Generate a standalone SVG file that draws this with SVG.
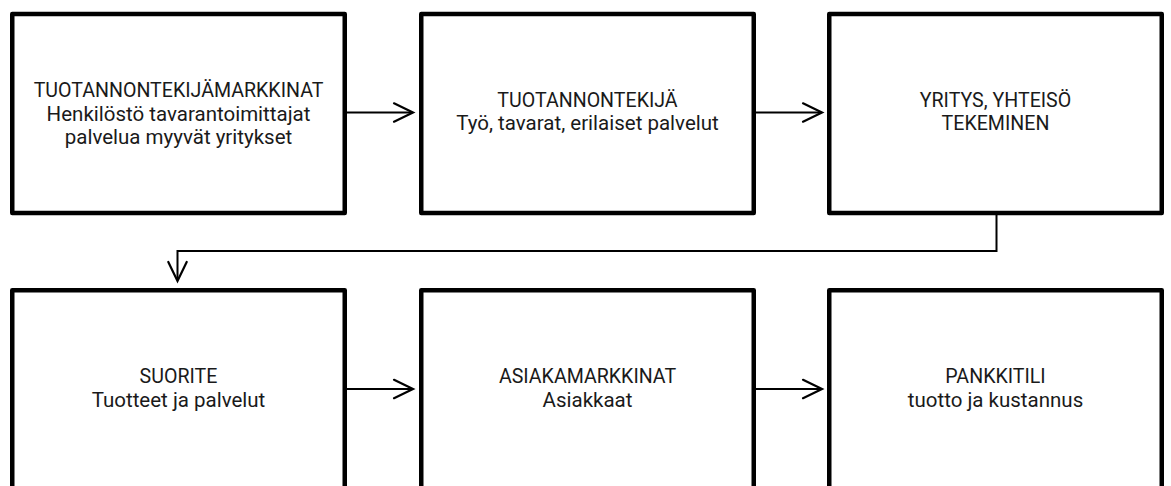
<svg xmlns="http://www.w3.org/2000/svg" width="1171" height="486" viewBox="0 0 1171 486">
  <style>
    .box { fill: #ffffff; stroke: #000000; stroke-width: 4.5; stroke-linejoin: round; }
    .label { font-family: Roboto, "Open Sans", sans-serif; font-size: 20.5px; fill: #1a1a1a; text-anchor: middle; }
    .caps { font-size: 19.6px; }
    .link { fill: none; stroke: #000000; stroke-width: 2; }
    .head { fill: none; stroke: #000000; stroke-width: 2.2; stroke-linecap: round; stroke-linejoin: miter; }
  </style>
  <rect width="1171" height="486" fill="#ffffff"/>

  <!-- top row -->
  <g id="node-tuotannontekijamarkkinat">
    <rect class="box" x="12.25" y="14" width="332.5" height="199"/>
    <text class="label caps" x="178.5" y="97">TUOTANNONTEKIJÄMARKKINAT</text>
    <text class="label" x="178.5" y="120.5">Henkilöstö tavarantoimittajat</text>
    <text class="label" x="178.5" y="144">palvelua myyvät yritykset</text>
  </g>
  <g id="node-tuotannontekija">
    <rect class="box" x="421.25" y="14" width="332.5" height="199"/>
    <text class="label caps" x="587.5" y="106.5">TUOTANNONTEKIJÄ</text>
    <text class="label" x="587.5" y="130">Työ, tavarat, erilaiset palvelut</text>
  </g>
  <g id="node-yritys">
    <rect class="box" x="829.25" y="14" width="332.5" height="199"/>
    <text class="label caps" x="995.5" y="106.5">YRITYS, YHTEISÖ</text>
    <text class="label caps" x="995.5" y="130">TEKEMINEN</text>
  </g>

  <!-- bottom row (runs past the lower edge) -->
  <g id="node-suorite">
    <rect class="box" x="12.25" y="290.25" width="332.5" height="220"/>
    <text class="label caps" x="178.5" y="383">SUORITE</text>
    <text class="label" x="178.5" y="406.5">Tuotteet ja palvelut</text>
  </g>
  <g id="node-asiakamarkkinat">
    <rect class="box" x="421.25" y="290.25" width="332.5" height="220"/>
    <text class="label caps" x="587.5" y="383">ASIAKAMARKKINAT</text>
    <text class="label" x="587.5" y="406.5">Asiakkaat</text>
  </g>
  <g id="node-pankkitili">
    <rect class="box" x="829.25" y="290.25" width="332.5" height="220"/>
    <text class="label caps" x="995.5" y="383">PANKKITILI</text>
    <text class="label" x="995.5" y="406.5">tuotto ja kustannus</text>
  </g>

  <!-- connectors -->
  <g id="connectors">
    <path class="link" d="M347 112.5 H412"/>
    <path class="head" d="M394 103.3 L413 112.5 L394 121.7"/>
    <path class="link" d="M756 112.5 H821"/>
    <path class="head" d="M803 103.3 L822 112.5 L803 121.7"/>

    <path class="link" d="M996.5 215 V251 H177.5 V280"/>
    <path class="head" d="M168.3 262 L177.5 281 L186.7 262"/>

    <path class="link" d="M347 389 H412"/>
    <path class="head" d="M394 379.8 L413 389 L394 398.2"/>
    <path class="link" d="M756 389 H821"/>
    <path class="head" d="M803 379.8 L822 389 L803 398.2"/>
  </g>
</svg>
